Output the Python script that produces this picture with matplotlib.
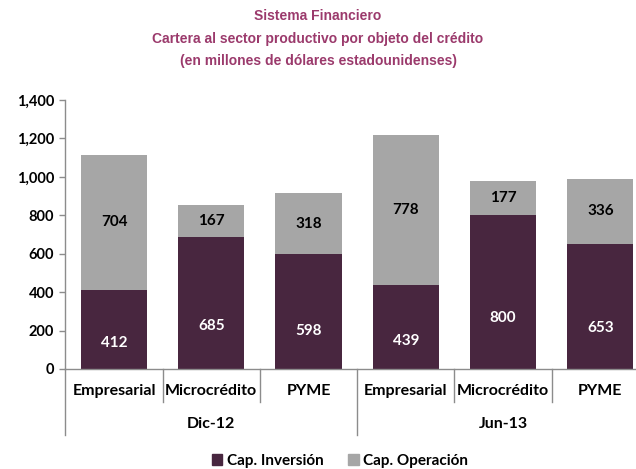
import numpy as np
import matplotlib
matplotlib.use('Agg')
import matplotlib.pyplot as plt
from matplotlib.patches import Patch

periodos = ['Dic-12', 'Jun-13']
categorias = ['Empresarial', 'Microcrédito', 'PYME']
inversion = [412, 685, 598, 439, 800, 653]
operacion = [704, 167, 318, 778, 177, 336]
y_ticks = [0, 200, 400, 600, 800, 1000, 1200, 1400]
series = ['Cap. Inversión', 'Cap. Operación']

c_inv = '#48263f'
c_ope = '#a6a6a6'
c_tit = '#9b3a6c'
c_eje = '#8c8c8c'
fuente = 'Lato'

W, H = 636, 469
fig = plt.figure(figsize=(W / 100, H / 100), dpi=100)
# eje: y=0 en 369 px, 1400 en 100 px; x de 65 a 649 px (sale un poco del lienzo)
ax = fig.add_axes([65.4 / W, 1 - 369 / H, (649 - 65.4) / W, 269 / H])

x = np.arange(len(inversion))
ancho = 0.68
ax.bar(x, inversion, ancho, color=c_inv, label=series[0])
ax.bar(x, operacion, ancho, bottom=inversion, color=c_ope, label=series[1])

for xi, vi, vo in zip(x, inversion, operacion):
    ax.text(xi, vi * 0.33, str(vi), ha='center', va='center', color='white',
            fontsize=11, fontweight='bold', family=fuente)
    ax.text(xi, vi + vo / 2, str(vo), ha='center', va='center', color='black',
            fontsize=11, fontweight='bold', family=fuente)

ax.set_xlim(-0.5, len(x) - 0.5)
ax.set_ylim(0, 1400)
ax.set_yticks(y_ticks)
ax.set_yticklabels(['{:,}'.format(v) for v in y_ticks], fontsize=10.5,
                   fontweight='bold', family=fuente)
ax.set_xticks([])
ax.tick_params(axis='y', direction='out', length=4, width=1, color=c_eje, pad=4)
for s in ['top', 'right']:
    ax.spines[s].set_visible(False)
for s in ['left', 'bottom']:
    ax.spines[s].set_color(c_eje)
    ax.spines[s].set_linewidth(1)

tr = ax.get_xaxis_transform()
n = len(categorias)
# etiquetas de categorias y periodos
for i, xi in enumerate(x):
    ax.text(xi, -0.082, categorias[i % n], transform=tr, ha='center', va='center',
            fontsize=11.5, fontweight='bold', family=fuente)
for j, p in enumerate(periodos):
    ax.text(j * n + (n - 1) / 2, -0.204, p, transform=tr, ha='center', va='center',
            fontsize=11.5, fontweight='bold', family=fuente)
# separadores
for k in range(len(x) + 1):
    xs = k - 0.5
    fondo = -0.245 if k % n == 0 else -0.123
    ax.plot([xs, xs], [0, fondo], transform=tr, color=c_eje, lw=1, clip_on=False)

titulos = ['Sistema Financiero',
           'Cartera al sector productivo por objeto del crédito',
           '(en millones de dólares estadounidenses)']
for t, yp in zip(titulos, [16, 39, 61]):
    fig.text(0.5, 1 - yp / H, t, ha='center', va='center', color=c_tit,
             fontsize=10, fontweight='bold', family='Liberation Sans')

handles = [Patch(color=c_inv, label=series[0]), Patch(color=c_ope, label=series[1])]
fig.legend(handles=handles, loc='center', bbox_to_anchor=(340 / W, 1 - 461 / H), ncol=2,
           frameon=False, handlelength=0.7, handleheight=0.7, handletextpad=0.3,
           columnspacing=1.6, prop={'family': fuente, 'weight': 'bold', 'size': 11})

fig.savefig('out.png', dpi=100)
